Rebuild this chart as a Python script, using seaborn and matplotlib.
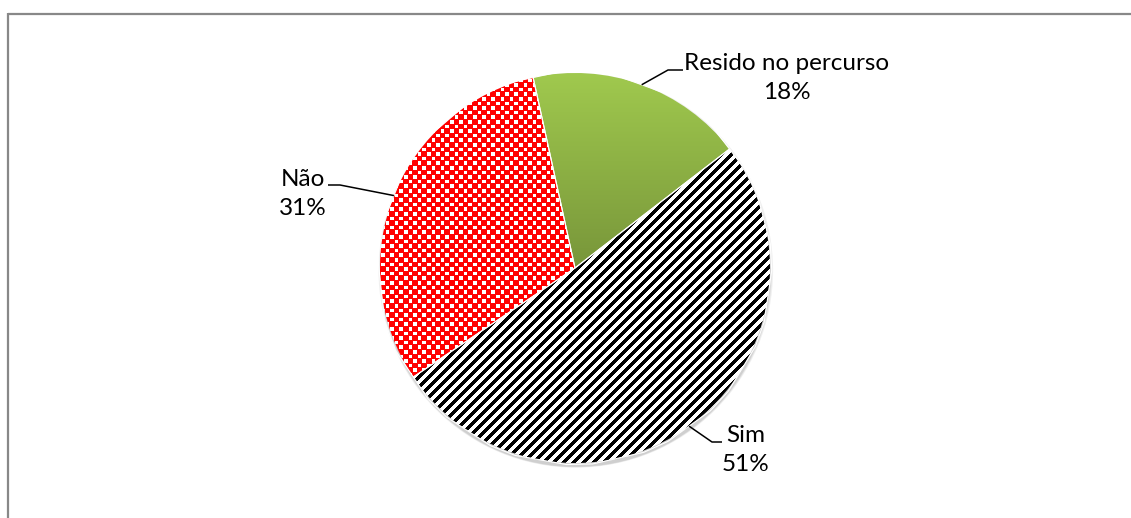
"""
Pie chart: Resido no percurso / Sim / Não
"""

# =============== IMPORTS ===============
import numpy as np
import matplotlib
matplotlib.use("Agg")
import matplotlib.pyplot as plt
import seaborn as sns
from matplotlib.colors import to_rgb
from matplotlib.patches import Circle
from matplotlib.lines import Line2D


# =============== DATA ===============
labels = ["Resido no percurso", "Sim", "Não"]
values = [18, 51, 31]

# =============== STYLE ===============
sns.set_theme(style="white")
plt.rcParams["font.family"] = ["Lato", "DejaVu Sans"]

W, H = 1131, 518
CX, CY, R = 575, 268, 195   # pie centre / radius in pixels


def px(x, y):
    """pixel position -> data coords (pie radius = 1)"""
    return (x - CX) / R, (CY - y) / R


# label layout (pixels): elbow of the leader, end of the leader, text centre
layout = {
    "Resido no percurso": [(668, 70), (683, 70), (787, 78)],
    "Sim": [(712, 442), (722, 442), (746, 450)],
    "Não": [(340, 185), (328, 185), (303, 194)],
}

# =============== FIGURE ===============
fig = plt.figure(figsize=(W / 100, H / 100), dpi=100)
ax = fig.add_axes([0, 0, 1, 1])

# soft shadow under the pie
for i, a in enumerate([0.06, 0.06, 0.08]):
    ax.add_patch(Circle((0.004, -0.012 - 0.004 * i), 1.0 + 0.006 * (2 - i),
                        color="black", alpha=a, lw=0, zorder=0))

wedges, _ = ax.pie(values, startangle=102.4, counterclock=False, radius=1,
                   wedgeprops=dict(linewidth=0))
for w in wedges:
    w.set_facecolor("none")
    w.set_zorder(2)

# pixel grid covering the pie, for the fill textures
n = 2 * R
jj, ii = np.meshgrid(np.arange(n), np.arange(n))


def fill_wedge(wedge, img, extent=(-1, 1, -1, 1), interp="nearest"):
    im = ax.imshow(img, extent=extent, aspect="auto", zorder=1,
                   interpolation=interp)
    im.set_clip_path(wedge)


# Sim: black diagonal stripes on white
stripes = np.ones((n, n, 3))
stripes[((ii + jj) % 10) < 4.6] = 0.0
fill_wedge(wedges[labels.index("Sim")], stripes)

# Resido: green vertical gradient
top, bot = np.array(to_rgb("#A0C94E")), np.array(to_rgb("#78963A"))
t = np.linspace(0, 1, 200)[:, None, None]
grad = np.repeat(top * (1 - t) + bot * t, 2, axis=1)
fill_wedge(wedges[labels.index("Resido no percurso")], grad,
           extent=(-1, 1, 0, 1), interp="bilinear")

# Não: red with small white checker squares
c = 4.6
u, v = ii / c, jj / c
a, b = np.floor(u), np.floor(v)
fu, fv = u - a - 0.5, v - b - 0.5
white = ((a + b) % 2 == 1) & (np.maximum(abs(fu), abs(fv)) < 0.4)
checks = np.tile(np.array(to_rgb("#FF0000")), (n, n, 1))
checks[white] = 1.0
fill_wedge(wedges[labels.index("Não")], checks)

# thin white seams between slices
for w in wedges:
    ax.add_patch(plt.Polygon(w.get_path().transformed(w.get_patch_transform()).vertices,
                             closed=True, fill=False, edgecolor="white",
                             lw=0.8, zorder=2.5))

# =============== LABELS ===============
for w, lab, val in zip(wedges, labels, values):
    mid = np.deg2rad((w.theta1 + w.theta2) / 2)
    edge = (np.cos(mid), np.sin(mid))
    elbow, end, txt = [px(*p) for p in layout[lab]]
    ax.plot([edge[0], elbow[0], end[0]], [edge[1], elbow[1], end[1]],
            color="black", lw=1.1, zorder=3, solid_capstyle="butt")
    ax.text(txt[0], txt[1], f"{lab}\n{val}%", ha="center", va="center",
            fontsize=17.5, color="black", linespacing=1.45, zorder=4)

ax.set_xlim(px(0, 0)[0], px(W, 0)[0])
ax.set_ylim(px(0, H)[1], px(0, 0)[1])
ax.set_aspect("auto")
ax.axis("off")

# chart frame: left edge and top edge (the rest lies outside the picture)
fx, fy = 7.5 / W, 1 - 13.5 / H
fig.lines.append(Line2D([fx, fx], [0.0, fy + 0.8 / H], transform=fig.transFigure,
                        color="#888888", lw=1.6, solid_capstyle="butt"))
fig.lines.append(Line2D([fx, 1 - 0.5 / W], [fy, fy], transform=fig.transFigure,
                        color="#888888", lw=1.6, solid_capstyle="butt"))

fig.savefig("out.png", dpi=100)
plt.close(fig)
